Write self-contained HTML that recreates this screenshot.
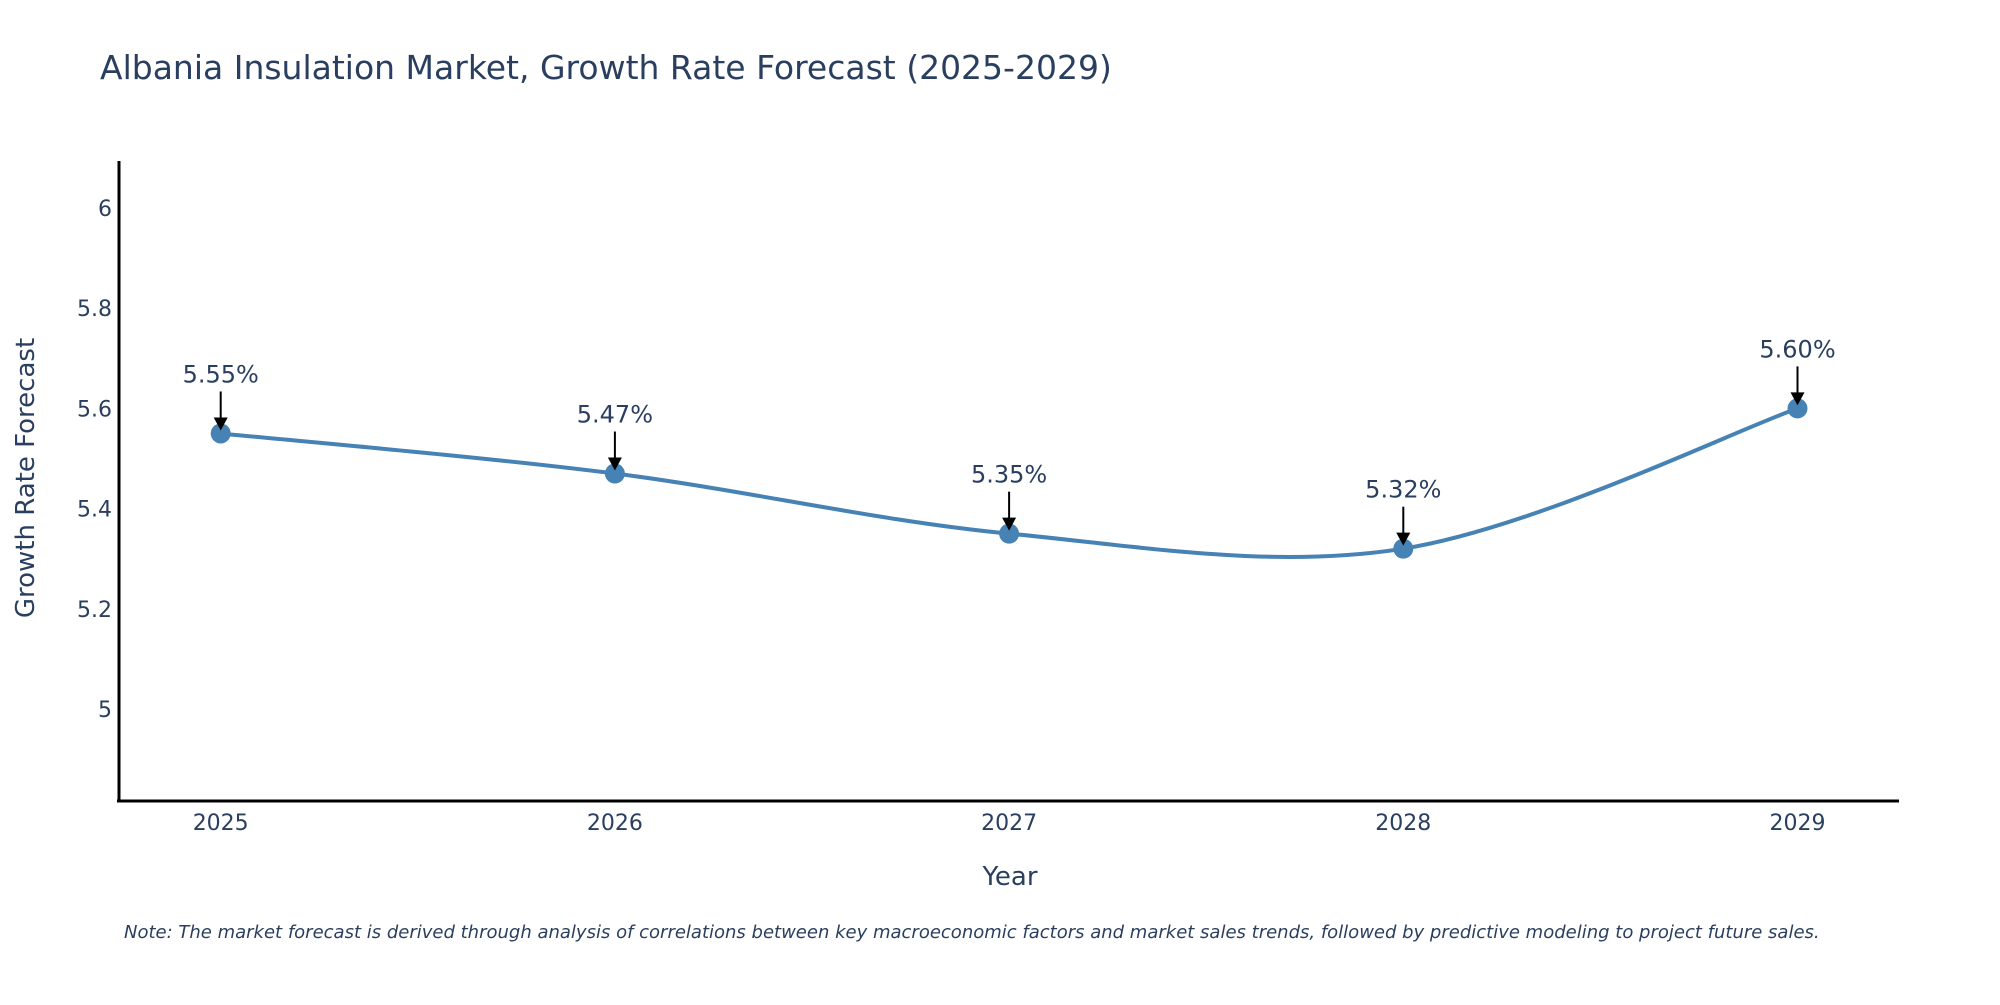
<!DOCTYPE html>
<html><head><meta charset="utf-8"><style>
body{margin:0;background:#fff;}
svg text{font-family:"DejaVu Sans","Liberation Sans",sans-serif;fill:#2a3f5f;}
</style></head><body>
<svg id="chart" width="2000" height="1000" xmlns="http://www.w3.org/2000/svg">
<text x="100" y="79" font-size="33">Albania Insulation Market, Growth Rate Forecast (2025-2029)</text>
<g id="yticks"></g>
<g id="xticks"></g>
<line x1="119" y1="161" x2="119" y2="802" stroke="#000" stroke-width="3"/>
<line x1="117" y1="801" x2="1899" y2="801" stroke="#000" stroke-width="3"/>
<path id="line" fill="none" stroke="#4682b4" stroke-width="4"/>
<g id="marks"></g>
<text x="1010" y="885" font-size="26" text-anchor="middle">Year</text>
<text transform="translate(34,478) rotate(-90)" font-size="26" text-anchor="middle">Growth Rate Forecast</text>
<text x="124" y="938" font-size="18" font-style="italic">Note: The market forecast is derived through analysis of correlations between key macroeconomic factors and market sales trends, followed by predictive modeling to project future sales.</text>
</svg>
<script>
const years=[2025,2026,2027,2028,2029];
const values=[5.55,5.47,5.35,5.32,5.60];
const labels=["5.55%","5.47%","5.35%","5.32%","5.60%"];
const yTicks=[5,5.2,5.4,5.6,5.8,6];
const NS="http://www.w3.org/2000/svg";
function xs(v){return 220.7+(v-2025)*394.2;}
function ys(v){return 709-(v-5)*501;}
function mk(t,a,p){const e=document.createElementNS(NS,t);for(const k in a)e.setAttribute(k,a[k]);p.appendChild(e);return e;}
const yt=document.getElementById('yticks');
yTicks.forEach(v=>{const t=mk('text',{x:112,y:ys(v)+8,'font-size':22,'text-anchor':'end'},yt);


t.textContent=String(v);});
const xt=document.getElementById('xticks');
years.forEach(v=>{const t=mk('text',{x:xs(v),y:830,'font-size':22,'text-anchor':'middle'},xt);


t.textContent=String(v);});
const P=years.map((y,i)=>[xs(y),ys(values[i])]);
let d='M'+P[0][0]+','+P[0][1];
for(let i=0;i<P.length-1;i++){const p0=P[i-1]||P[i],p1=P[i],p2=P[i+1],p3=P[i+2]||P[i+1];
const c1=[p1[0]+(p2[0]-p0[0])/6,p1[1]+(p2[1]-p0[1])/6],c2=[p2[0]-(p3[0]-p1[0])/6,p2[1]-(p3[1]-p1[1])/6];
d+=' C'+c1+' '+c2+' '+p2;}
document.getElementById('line').setAttribute('d',d);
const g=document.getElementById('marks');
P.forEach((p,i)=>{
const c=mk('circle',{cx:p[0],cy:p[1],r:10,fill:'#4682b4'},g);


const l=mk('line',{x1:p[0],y1:p[1]-42,x2:p[0],y2:p[1]-14,stroke:'#000','stroke-width':2},g);


const h=mk('polygon',{points:(p[0]-7)+','+(p[1]-16)+' '+(p[0]+7)+','+(p[1]-16)+' '+p[0]+','+(p[1]-3),fill:'#000'},g);


const t=mk('text',{x:p[0],y:p[1]-51,'font-size':24,'text-anchor':'middle'},g);


t.textContent=labels[i];});
</script>
</body></html>
